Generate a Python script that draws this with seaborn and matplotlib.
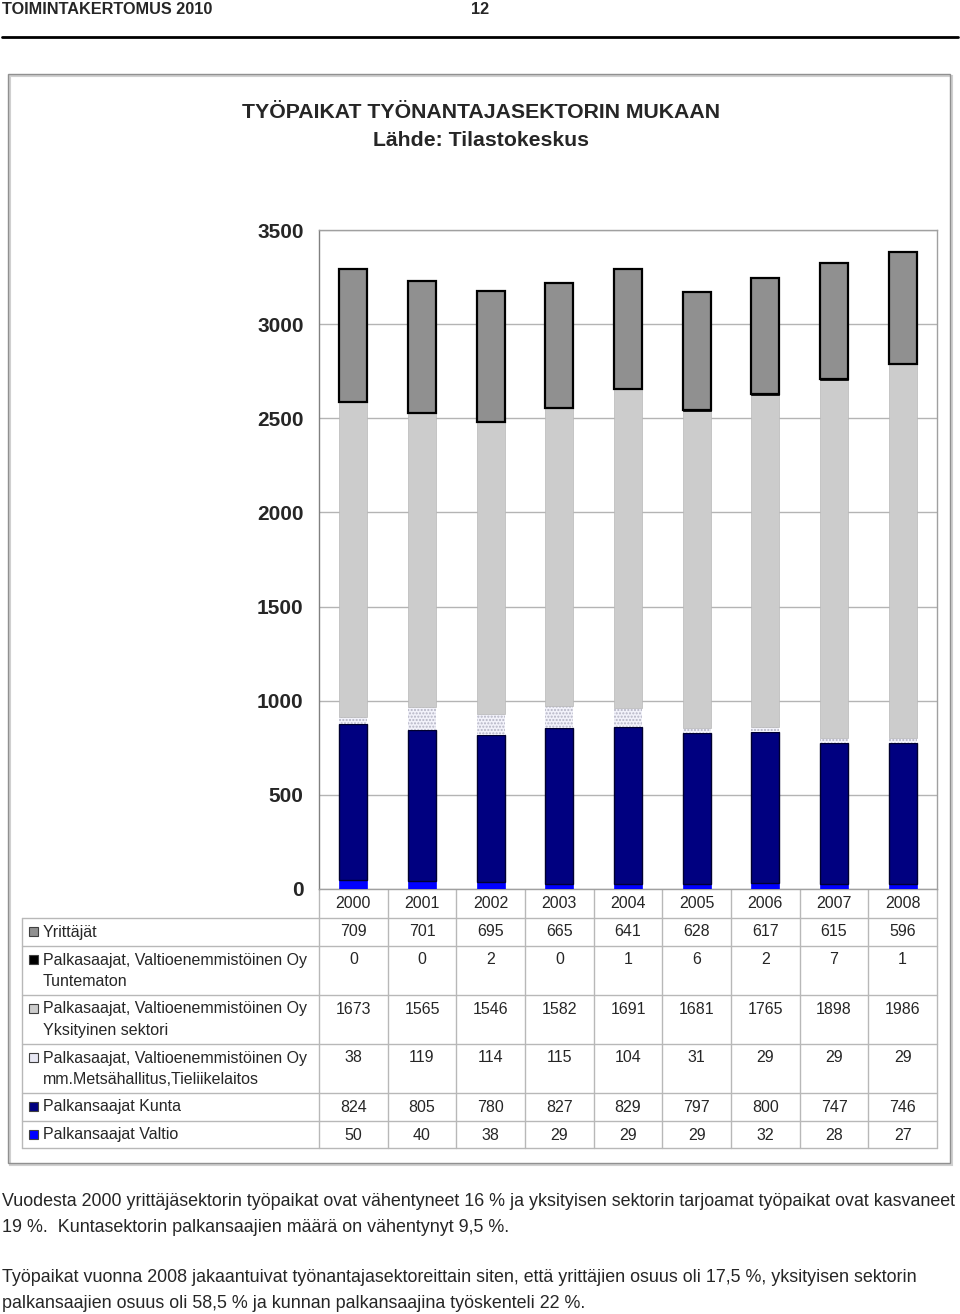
import numpy as np
import seaborn as sns
import matplotlib.pyplot as plt
from matplotlib.patches import Rectangle

# Data
years = ["2000", "2001", "2002", "2003", "2004", "2005", "2006", "2007", "2008"]

yrittajat = [709, 701, 695, 665, 641, 628, 617, 615, 596]
tuntematon = [0, 0, 2, 0, 1, 6, 2, 7, 1]
yksityinen = [1673, 1565, 1546, 1582, 1691, 1681, 1765, 1898, 1986]
metsahallitus = [38, 119, 114, 115, 104, 31, 29, 29, 29]
kunta = [824, 805, 780, 827, 829, 797, 800, 747, 746]
valtio = [50, 40, 38, 29, 29, 29, 32, 28, 27]

row_labels = [
    "Yrittäjät",
    "Palkasaajat, Valtioenemmistöinen Oy\nTuntematon",
    "Palkasaajat, Valtioenemmistöinen Oy\nYksityinen sektori",
    "Palkasaajat, Valtioenemmistöinen Oy\nmm.Metsähallitus,Tieliikelaitos",
    "Palkansaajat Kunta",
    "Palkansaajat Valtio",
]
row_values = [yrittajat, tuntematon, yksityinen, metsahallitus, kunta, valtio]

y_ticks = [0, 500, 1000, 1500, 2000, 2500, 3000, 3500]

# Styles (bottom -> top in the stack)
stack = [
    (valtio, "#0000ff", "#0000ff", 0.5, None),
    (kunta, "#000080", "#000030", 1.0, None),
    (metsahallitus, "#f2f2fa", "#b4b4c4", 0.0, "....."),
    (yksityinen, "#cccccc", "#b8b8b8", 0.5, None),
    (tuntematon, "#000000", "#000000", 0.5, None),
    (yrittajat, "#909090", "#000000", 1.6, None),
]
legend_colors = ["#909090", "#000000", "#cccccc", "#e8e8f4", "#000080", "#0000ff"]

W, H = 960, 1314
sns.set_style("white")
plt.rcParams["font.family"] = ["Liberation Sans", "DejaVu Sans"]

fig = plt.figure(figsize=(W / 100, H / 100), dpi=100)

# page overlay in pixel coordinates
pg = fig.add_axes([0, 0, 1, 1])
pg.set_xlim(0, W)
pg.set_ylim(H, 0)
pg.axis("off")

# chart axes
px_l, px_r, px_t, px_b = 319, 937, 230, 889
ax = fig.add_axes([px_l / W, 1 - px_b / H, (px_r - px_l) / W, (px_b - px_t) / H])

bottom = np.zeros(len(years))
for vals, face, edge, lw, hatch in stack:
    sns.barplot(
        x=years,
        y=vals,
        bottom=bottom,
        color=face,
        saturation=1,
        width=0.41,
        edgecolor=edge,
        linewidth=lw,
        hatch=hatch,
        ax=ax,
        zorder=3,
    )
    bottom = bottom + np.array(vals)

ax.set_xlim(-0.5, len(years) - 0.5)
ax.set_ylim(0, 3500)
ax.set_yticks(y_ticks)
ax.set_yticklabels([str(t) for t in y_ticks], fontsize=15, fontweight="bold")
ax.set_xticks([])
ax.set_xlabel("")
ax.set_ylabel("")
ax.tick_params(axis="y", length=5, color="#909090", pad=6)
ax.grid(axis="y", color="#b4b4b4", linewidth=1, zorder=0)
for s in ax.spines.values():
    s.set_color("#a0a0a0")
    s.set_linewidth(1)
ax.spines["left"].set_color("#808080")

# header
pg.text(2, 10, "TOIMINTAKERTOMUS 2010", fontsize=11.7,
        fontweight="bold", ha="left", va="center")
pg.text(480, 10, "12", fontsize=11.7, fontweight="bold",
        ha="center", va="center")
pg.plot([2, 958], [37, 37], color="black", linewidth=2)

# chart frame
pg.add_patch(Rectangle((10, 76), 942, 1089, facecolor="none",
                       edgecolor="#d0d0d0", linewidth=1.5))
pg.add_patch(Rectangle((8, 74), 942, 1089, facecolor="none",
                       edgecolor="#909090", linewidth=1))

# title
pg.text(481, 112, "TYÖPAIKAT TYÖNANTAJASEKTORIN MUKAAN", fontsize=15.3,
        fontweight="bold", ha="center", va="center")
pg.text(481, 140, "Lähde: Tilastokeskus", fontsize=15.3,
        fontweight="bold", ha="center", va="center")

# data table
col_w = (px_r - px_l) / len(years)
row_edges = [918, 946, 995, 1044, 1093, 1121, 1148]
line_c = "#b8b8b8"

for i in range(len(years) + 1):
    x = px_l + i * col_w
    pg.plot([x, x], [px_b, row_edges[-1]], color=line_c, linewidth=1)
for y in row_edges:
    pg.plot([22, px_r], [y, y], color=line_c, linewidth=1)
pg.plot([22, 22], [row_edges[0], row_edges[-1]], color=line_c, linewidth=1)

for i, yr in enumerate(years):
    pg.text(px_l + (i + 0.5) * col_w, 903, yr, fontsize=11.5,
            ha="center", va="center")

for r, (label, vals) in enumerate(zip(row_labels, row_values)):
    y0 = row_edges[r] + 14
    pg.add_patch(Rectangle((29, y0 - 5), 9, 9, facecolor=legend_colors[r],
                           edgecolor="#404040", linewidth=0.8))
    for k, ln in enumerate(label.split("\n")):
        pg.text(43, y0 + k * 22, ln, fontsize=11.5, ha="left", va="center")
    for i, v in enumerate(vals):
        pg.text(px_l + (i + 0.5) * col_w, y0, str(v), fontsize=11.5,
                ha="center", va="center")

# body text
body = [
    (1201, "Vuodesta 2000 yrittäjäsektorin työpaikat ovat vähentyneet 16 % ja yksityisen sektorin tarjoamat työpaikat ovat kasvaneet"),
    (1227, "19 %.  Kuntasektorin palkansaajien määrä on vähentynyt 9,5 %."),
    (1277, "Työpaikat vuonna 2008 jakaantuivat työnantajasektoreittain siten, että yrittäjien osuus oli 17,5 %, yksityisen sektorin"),
    (1303, "palkansaajien osuus oli 58,5 % ja kunnan palkansaajina työskenteli 22 %."),
]
for y, txt in body:
    pg.text(2, y, txt, fontsize=12.85, ha="left", va="center")

plt.savefig("out.png", dpi=100)
plt.close()
